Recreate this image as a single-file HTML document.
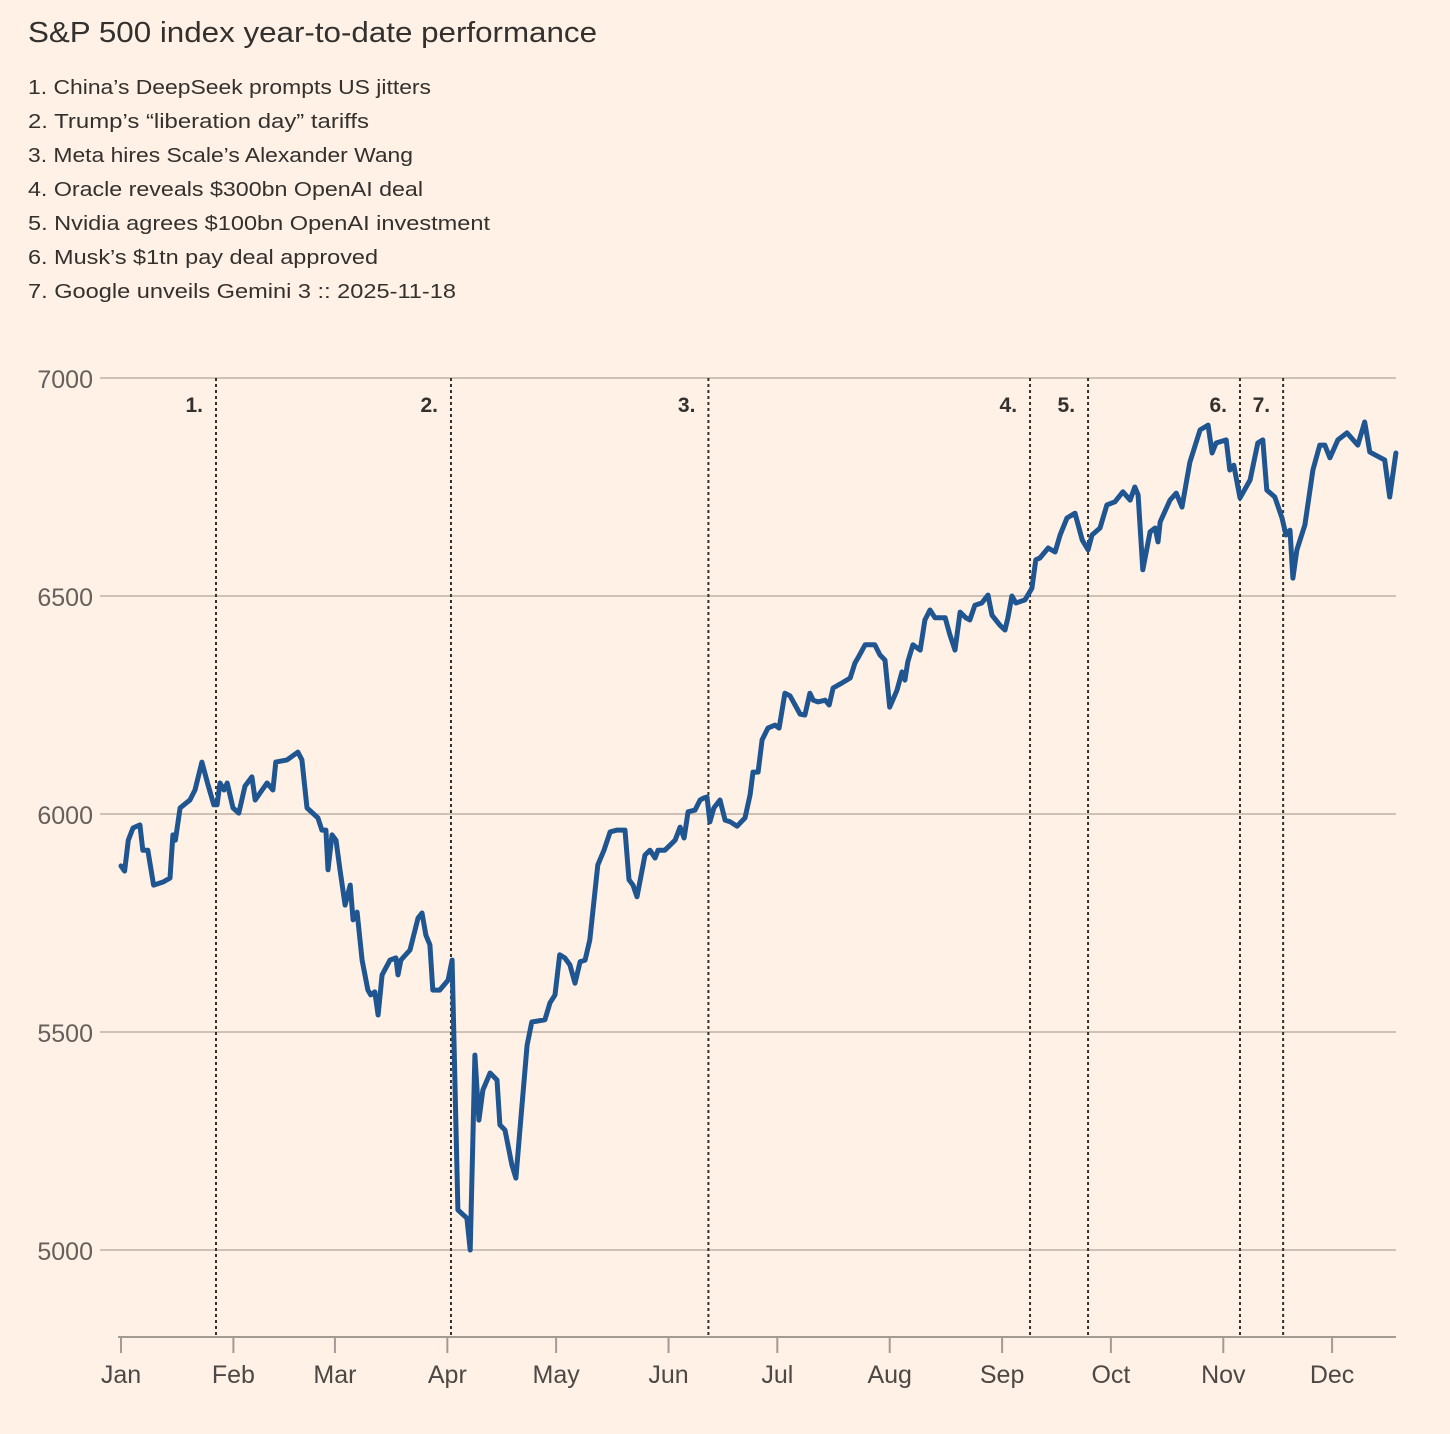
<!DOCTYPE html>
<html><head><meta charset="utf-8"><style>
html,body{margin:0;padding:0;background:#fff1e5;}
svg{display:block;font-family:"Liberation Sans",sans-serif;}
</style></head><body>
<svg id="chart" width="1450" height="1434" viewBox="0 0 1450 1434">
<rect width="1450" height="1434" fill="#fff1e5"/>
<text x="28" y="42" font-size="29" fill="#33302e" textLength="569" lengthAdjust="spacingAndGlyphs">S&amp;P 500 index year-to-date performance</text>
<g font-size="20" fill="#33302e">
<text x="28" y="94" textLength="403" lengthAdjust="spacingAndGlyphs">1. China’s DeepSeek prompts US jitters</text>
<text x="28" y="128" textLength="341" lengthAdjust="spacingAndGlyphs">2. Trump’s “liberation day” tariffs</text>
<text x="28" y="162" textLength="385" lengthAdjust="spacingAndGlyphs">3. Meta hires Scale’s Alexander Wang</text>
<text x="28" y="196" textLength="395" lengthAdjust="spacingAndGlyphs">4. Oracle reveals $300bn OpenAI deal</text>
<text x="28" y="230" textLength="462" lengthAdjust="spacingAndGlyphs">5. Nvidia agrees $100bn OpenAI investment</text>
<text x="28" y="264" textLength="350" lengthAdjust="spacingAndGlyphs">6. Musk’s $1tn pay deal approved</text>
<text x="28" y="298" textLength="428" lengthAdjust="spacingAndGlyphs">7. Google unveils Gemini 3 :: 2025-11-18</text>
</g>
<g id="grid"></g>
<g id="events"></g>
<g id="xaxis"></g>
<g id="series"></g>
</svg>
<script>
const yTicks=[5000,5500,6000,6500,7000];
const monthLabels=["Jan","Feb","Mar","Apr","May","Jun","Jul","Aug","Sep","Oct","Nov","Dec"];
const monthDays=[0,31,59,90,120,151,181,212,243,273,304,334];
const eventLabels=["1.","2.","3.","4.","5.","6.","7."];
const eventDays=[26.2,91,162,250.7,266.7,308.6,320.5];
const days=[0,1,2,3.3,5.2,6,7.4,9,11.6,13.5,14.3,15,16.3,19,20.4,22.3,24,25.6,26.5,27.3,28.4,29.3,30.9,32.5,34.2,36.1,37,38.9,40.3,41.9,42.7,45.8,48.8,49.9,51.3,54.3,55.4,56.5,57.1,58.2,59.3,60.4,61.8,63.2,64,65.1,66.5,68.1,68.9,70,70.9,72,74.2,75.8,76.4,77.2,79.7,81.9,83,84.1,85.2,86,87.9,90.2,91.3,92.9,95.4,96.3,97.6,98.7,99.8,101.8,103.7,104.5,105.9,107.8,108.9,110,112,113.3,116.9,118.3,119.7,121,122.4,123.8,125.2,126.6,128,129.3,131.5,133.2,134.9,136.8,139,140.1,141.2,142.3,144.5,145.9,147.3,148.1,150,152.8,154.2,155.3,156.4,158.3,159.7,160.8,161.6,162.4,163.5,165.2,166.6,168,169.9,172.1,173.5,174.3,175.7,176.8,178.4,180.4,181.5,183.1,184.5,185.9,187.3,188.6,190,190.9,192.2,194.2,195.3,196.4,198.3,201.1,202.4,203.5,205.2,207.9,209.3,210.7,212,214,215.4,216.2,217,218.4,220.4,221.7,223.1,224.5,227.3,228.6,230,231.4,233,234.1,235.5,237.4,239.1,240.2,242.4,243.8,244.6,245.7,246.8,249.3,251.2,252.3,253.4,255.7,257.6,259,260.9,263.1,265.1,266.7,267.8,270,271.9,274.1,276.3,278.3,279.6,280.5,281.8,283.8,285.2,286,286.6,289.3,291,292.6,294.8,297.6,299.8,300.9,302,304.8,305.8,306.9,308.6,311.4,313.5,314.9,316,318.2,320.2,321.3,322.4,323.2,324.3,326.5,328.7,330.6,332,333.4,335.6,338.1,341.1,343,344.4,348.5,349.9,351.6];
const values=[5881,5869,5940,5968,5975,5917,5917,5837,5844,5853,5952,5940,6014,6032,6055,6119,6067,6021,6021,6071,6055,6071,6014,6002,6064,6085,6032,6055,6071,6055,6119,6124,6142,6124,6014,5991,5963,5963,5872,5952,5940,5872,5791,5837,5757,5775,5665,5596,5585,5592,5539,5631,5665,5670,5631,5665,5688,5761,5773,5722,5700,5596,5596,5619,5665,5092,5073,5000,5447,5298,5367,5406,5390,5287,5275,5195,5165,5275,5470,5523,5528,5567,5585,5677,5670,5654,5612,5661,5665,5711,5883,5917,5959,5963,5963,5849,5837,5810,5906,5917,5899,5917,5917,5940,5970,5945,6005,6009,6032,6037,6039,5982,6014,6032,5986,5982,5972,5991,6044,6096,6096,6170,6197,6204,6197,6277,6271,6250,6229,6227,6277,6261,6257,6261,6250,6289,6298,6312,6346,6362,6388,6388,6365,6353,6245,6284,6326,6307,6349,6388,6376,6445,6468,6450,6450,6411,6376,6463,6450,6445,6479,6484,6502,6456,6433,6422,6450,6500,6484,6491,6518,6583,6587,6610,6601,6640,6679,6690,6628,6606,6640,6656,6709,6716,6739,6720,6750,6732,6560,6647,6656,6624,6670,6720,6736,6704,6807,6881,6892,6828,6851,6858,6789,6800,6725,6766,6851,6858,6743,6727,6679,6640,6651,6541,6606,6663,6789,6846,6846,6817,6858,6874,6846,6899,6830,6812,6727,6828];

const NS="http://www.w3.org/2000/svg";
const X0=121,PXD=3.626,Y7000=378,PXV=0.436,AXY=1337,XR=1396;
function xs(d){return X0+d*PXD;}
function ys(v){return Y7000+(7000-v)*PXV;}
function mk(tag,attrs,parent){const e=document.createElementNS(NS,tag);for(const k in attrs)e.setAttribute(k,attrs[k]);parent.appendChild(e);return e;}

const grid=document.getElementById('grid');
yTicks.forEach(v=>{
  const l=mk('line',{x1:100,x2:XR,y1:ys(v),y2:ys(v),stroke:'#cec1b6','stroke-width':2},grid);
  
  
  const t=mk('text',{x:93,y:ys(v)+10,'text-anchor':'end','font-size':25,fill:'#66605c'},grid);
  t.textContent=v;
  
  
});

const ev=document.getElementById('events');
eventDays.forEach((d,i)=>{
  const l=mk('line',{x1:xs(d),x2:xs(d),y1:378,y2:AXY,stroke:'#33302e','stroke-width':2,'stroke-dasharray':'3,3'},ev);
  
  
  const t=mk('text',{x:xs(d)-13,y:412,'text-anchor':'end','font-size':21,'font-weight':'bold',fill:'#33302e'},ev);
  t.textContent=eventLabels[i];
  
  
});

const xa=document.getElementById('xaxis');
const ax=mk('line',{x1:118,x2:XR,y1:AXY,y2:AXY,stroke:'#a39a92','stroke-width':2},xa);


monthDays.forEach((d,i)=>{
  const tk=mk('line',{x1:xs(d),x2:xs(d),y1:AXY,y2:1353,stroke:'#a39a92','stroke-width':2},xa);
  
  
  const t=mk('text',{x:xs(d),y:1383,'text-anchor':'middle','font-size':25,fill:'#4d4845'},xa);
  t.textContent=monthLabels[i];
  
  
});

const s=document.getElementById('series');
const p=mk('path',{d:days.map((d,i)=>(i?'L':'M')+xs(d).toFixed(1)+','+ys(values[i]).toFixed(1)).join(''),fill:'none',stroke:'#1f5591','stroke-width':5,'stroke-linejoin':'round','stroke-linecap':'round'},s);


</script>
</body></html>
